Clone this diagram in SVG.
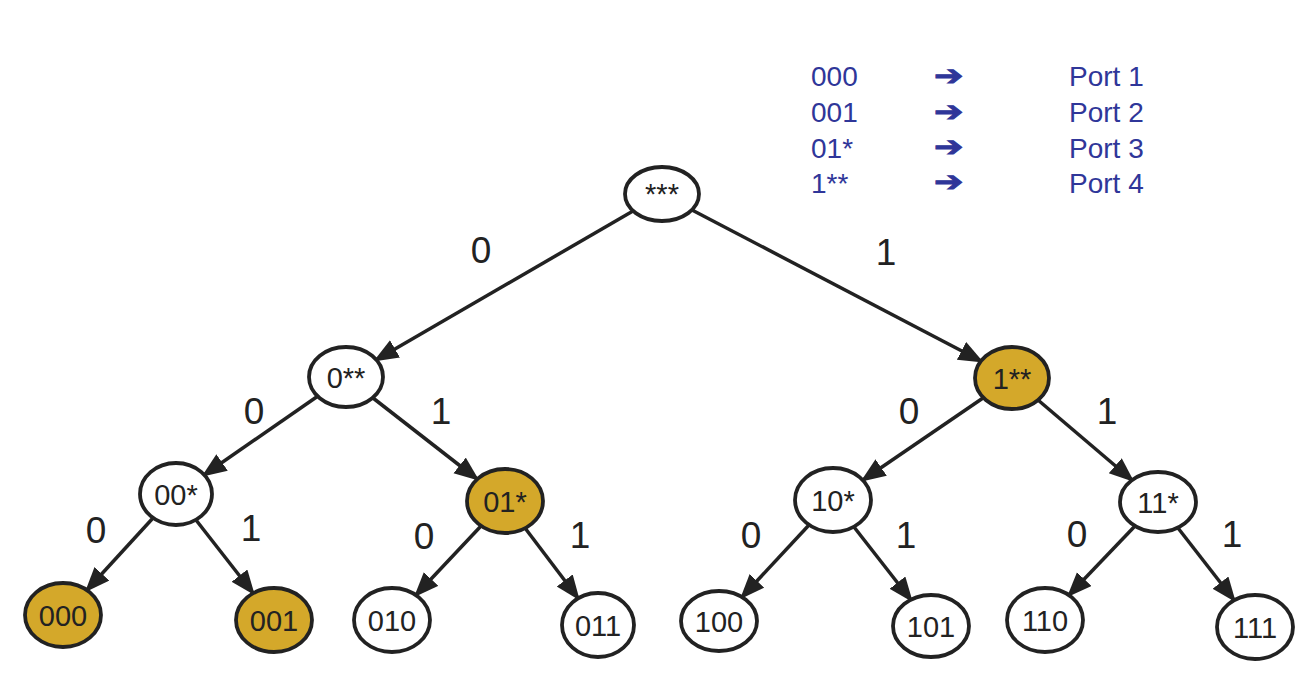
<svg xmlns="http://www.w3.org/2000/svg" width="1303" height="676" viewBox="0 0 1303 676">
<style>
.n{fill:#fff;stroke:#222;stroke-width:3.8}
.g{fill:#D4A82A}
.t{font-family:"Liberation Sans",Arial,sans-serif;font-size:29px;fill:#222;text-anchor:middle}
.e{stroke:#222;stroke-width:3.5;fill:none;marker-end:url(#ah)}
.el{font-family:"Liberation Sans",Arial,sans-serif;font-size:37px;fill:#222;text-anchor:middle}
.lg{font-family:"Liberation Sans",Arial,sans-serif;font-size:28px;fill:#2F3699}
.ar{font-family:"DejaVu Sans",sans-serif;font-size:28px;font-weight:bold;fill:#2F3699;stroke:#2F3699;stroke-width:1}
</style>
<defs>
<marker id="ah" markerUnits="userSpaceOnUse" markerWidth="28" markerHeight="22" refX="22" refY="10" orient="auto">
<path d="M0,0 L25,10 L0,20 z" fill="#222"/>
</marker>
</defs>
<rect width="1303" height="676" fill="#fff"/>
<g id="legend">
<text class="lg" x="811" y="86">000</text><text class="ar" transform="translate(934,85) scale(1.25,1)">➔</text><text class="lg" x="1069" y="86">Port 1</text>
<text class="lg" x="811" y="122">001</text><text class="ar" transform="translate(934,121) scale(1.25,1)">➔</text><text class="lg" x="1069" y="122">Port 2</text>
<text class="lg" x="811" y="158">01*</text><text class="ar" transform="translate(934,156) scale(1.25,1)">➔</text><text class="lg" x="1069" y="158">Port 3</text>
<text class="lg" x="811" y="193">1**</text><text class="ar" transform="translate(934,191) scale(1.25,1)">➔</text><text class="lg" x="1069" y="193">Port 4</text>
</g>
<g id="connectors">
<line class="e" x1="633" y1="211" x2="376" y2="360"/>
<line class="e" x1="692" y1="210" x2="981" y2="361"/>
<line class="e" x1="318" y1="396" x2="204" y2="475"/>
<line class="e" x1="373" y1="398" x2="477" y2="479"/>
<line class="e" x1="983" y1="398" x2="863" y2="480"/>
<line class="e" x1="1038" y1="400" x2="1132" y2="480"/>
<line class="e" x1="153" y1="518" x2="87" y2="590"/>
<line class="e" x1="196" y1="520" x2="253" y2="593"/>
<line class="e" x1="481" y1="526" x2="416" y2="595"/>
<line class="e" x1="525" y1="528" x2="578" y2="598"/>
<line class="e" x1="809" y1="525" x2="742" y2="597"/>
<line class="e" x1="854" y1="527" x2="911" y2="600"/>
<line class="e" x1="1135" y1="526" x2="1069" y2="595"/>
<line class="e" x1="1178" y1="528" x2="1234" y2="600"/>
<text class="el" x="481" y="263">0</text>
<text class="el" x="886" y="265">1</text>
<text class="el" x="254" y="424">0</text>
<text class="el" x="441" y="424">1</text>
<text class="el" x="909" y="424">0</text>
<text class="el" x="1107" y="424">1</text>
<text class="el" x="96" y="543">0</text>
<text class="el" x="251" y="541">1</text>
<text class="el" x="424" y="549">0</text>
<text class="el" x="580" y="548">1</text>
<text class="el" x="751" y="548">0</text>
<text class="el" x="906" y="548">1</text>
<text class="el" x="1077" y="547">0</text>
<text class="el" x="1232" y="547">1</text>
</g>
<g id="n_root"><ellipse class="n" cx="662" cy="194" rx="37" ry="27"/><text class="t" x="662" y="204">***</text></g>
<g id="n_0"><ellipse class="n" cx="346" cy="377" rx="37" ry="30"/><text class="t" x="346" y="388">0**</text></g>
<g id="n_1"><ellipse class="n g" cx="1012" cy="378" rx="37" ry="31"/><text class="t" x="1012" y="389">1**</text></g>
<g id="n_00"><ellipse class="n" cx="176" cy="494" rx="36" ry="31"/><text class="t" x="176" y="505">00*</text></g>
<g id="n_01"><ellipse class="n g" cx="505" cy="501" rx="38" ry="32"/><text class="t" x="505" y="512">01*</text></g>
<g id="n_10"><ellipse class="n" cx="833" cy="500" rx="38" ry="32"/><text class="t" x="833" y="511">10*</text></g>
<g id="n_11"><ellipse class="n" cx="1158" cy="502" rx="38" ry="30"/><text class="t" x="1158" y="513">11*</text></g>
<g id="n_000"><ellipse class="n g" cx="63" cy="615" rx="38" ry="32"/><text class="t" x="63" y="626">000</text></g>
<g id="n_001"><ellipse class="n g" cx="274" cy="620" rx="38" ry="32"/><text class="t" x="274" y="631">001</text></g>
<g id="n_010"><ellipse class="n" cx="392" cy="620" rx="38" ry="32"/><text class="t" x="392" y="631">010</text></g>
<g id="n_011"><ellipse class="n" cx="598" cy="625" rx="36" ry="32"/><text class="t" x="598" y="636">011</text></g>
<g id="n_100"><ellipse class="n" cx="719" cy="621" rx="38" ry="30"/><text class="t" x="719" y="632">100</text></g>
<g id="n_101"><ellipse class="n" cx="931" cy="626" rx="38" ry="31"/><text class="t" x="931" y="637">101</text></g>
<g id="n_110"><ellipse class="n" cx="1045" cy="620" rx="38" ry="32"/><text class="t" x="1045" y="631">110</text></g>
<g id="n_111"><ellipse class="n" cx="1255" cy="627" rx="38" ry="32"/><text class="t" x="1255" y="638">111</text></g>
</svg>
